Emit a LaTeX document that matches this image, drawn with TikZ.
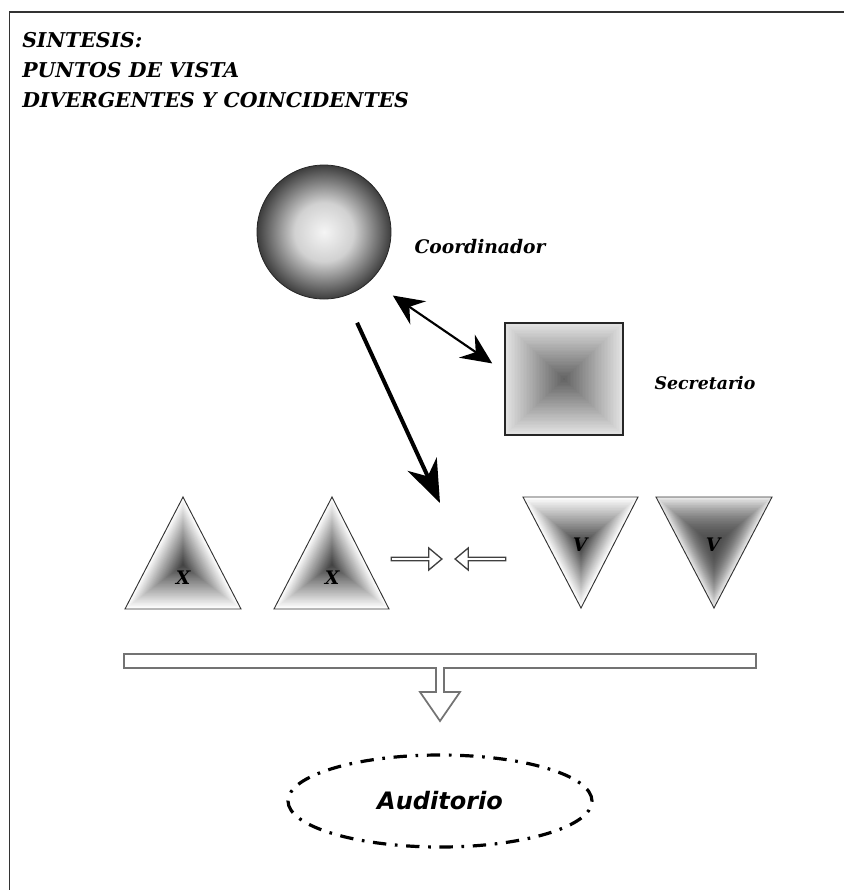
\documentclass[tikz,border=0pt]{standalone}
\usepackage{fontspec}
\setmainfont{DejaVu Serif}
\setsansfont{DejaVu Sans}
\usepackage{tikz}
\usetikzlibrary{arrows.meta}
\usetikzlibrary{shapes.arrows}
\usetikzlibrary{shapes.geometric}

\pgfdeclareradialshading{ballshade}{\pgfpoint{0bp}{0bp}}{color(0bp)=(black!4); color(11bp)=(black!18); color(25bp)=(black!76); color(50bp)=(black!76)}

\tikzset{
  script/.style={font=\bfseries\itshape\fontsize{#1}{#1}\selectfont, inner sep=0pt},
  hollowarrow/.style={single arrow, draw=black!75, fill=white, line width=1pt,
    minimum height=38pt, minimum width=16.5pt, single arrow head extend=2.6pt,
    single arrow tip angle=80, inner sep=0pt},
  bigarrow/.style={line width=3pt, -{Stealth[length=32pt, width=24pt, inset=10pt]}},
  dblarrow/.style={line width=1.6pt, {Stealth[length=23pt, width=21pt, inset=8pt]}-{Stealth[length=23pt, width=21pt, inset=8pt]}},
}

\begin{document}
\begin{tikzpicture}[x=0.75pt, y=-0.75pt]
    % Page area in pixel units (844 x 890)
    \useasboundingbox (0,0) rectangle (844,890);
    \draw[line width=1.1pt, black!80] (9.5,890) -- (9.5,12) -- (844,12);

    % Title
    \node[script=15.3, anchor=north west, align=left, font=\bfseries\itshape\fontsize{15.3}{22.5}\selectfont] (title) at (22,32)
        {SINTESIS:\\PUNTOS DE VISTA\\DIVERGENTES Y COINCIDENTES};

    % Coordinador: shaded ball
    \node[circle, minimum size=100.5pt, draw=black!85, line width=0.6pt, shade, shading=ballshade] (coord) at (324,232) {};
    \node[script=14] (coordlbl) at (480,247) {Coordinador};

    % Secretario: square with pyramid shading
    \foreach \i in {0,...,40} {
        \pgfmathsetmacro\s{1-\i/40}
        \pgfmathsetmacro\c{11+51*\i/40}
        \fill[black!\c] ({564-59*\s},{379-56*\s}) rectangle ({564+59*\s},{379+56*\s});
    }
    \node[draw=black!85, line width=1pt, minimum width=88.5pt, minimum height=84pt] (secr) at (564,379) {};
    \node[script=13] (secrlbl) at (705,383) {Secretario};

    % Arrows from the coordinator
    \draw[dblarrow, shorten <=20pt, shorten >=11pt] (coord.-46) -- (secr.173);
    \coordinate (focus) at (440,503);
    \draw[bigarrow, shorten <=22pt] (coord.-72) -- (focus);

    % Triangles pointing up (X)
    \foreach \ax/\bl/\br in {183/125/241, 332/274/389} {
        \foreach \i in {0,...,30} {
            \pgfmathsetmacro\s{1-\i/30}
            \pgfmathsetmacro\c{76*\i/30}
            \fill[black!\c] ({\ax+(\ax-\ax)*\s},{565+(497-565)*\s}) -- ({\ax+(\bl-\ax)*\s},{565+(609-565)*\s})
                -- ({\ax+(\br-\ax)*\s},{565+(609-565)*\s}) -- cycle;
        }
        \draw[black!80, line width=0.7pt] (\ax,497) -- (\bl,609) -- (\br,609) -- cycle;
    }
    \node[script=14] (x1) at (183,578) {X};
    \node[script=14] (x2) at (332,578) {X};

    % Triangles pointing down (V)
    \foreach \i in {0,...,30} {
        \pgfmathsetmacro\s{1-\i/30}
        \pgfmathsetmacro\c{78*\i/30}
        \fill[black!\c] ({581+(523-581)*\s},{545+(497-545)*\s}) -- ({581+(638-581)*\s},{545+(497-545)*\s})
            -- (581,{545+(608-545)*\s}) -- cycle;
    }
    \foreach \i in {0,...,30} {
        \pgfmathsetmacro\s{1-\i/30}
        \pgfmathsetmacro\c{70-62*\s*\s}
        \fill[black!\c] ({714+(656-714)*\s},{545+(497-545)*\s}) -- ({714+(772-714)*\s},{545+(497-545)*\s})
            -- (714,{545+(608-545)*\s}) -- cycle;
    }
    \draw[black!80, line width=0.7pt] (523,497) -- (638,497) -- (581,608) -- cycle;
    \draw[black!80, line width=0.7pt] (656,497) -- (772,497) -- (714,608) -- cycle;
    \node[script=14] (v1) at (580,545) {V};
    \node[script=14] (v2) at (713,545) {V};

    % Hollow arrows meeting in the middle
    \node[hollowarrow] (ra) at (415.5,559) {};
    \node[hollowarrow, shape border rotate=180] (la) at (481.5,559) {};

    % Bar collecting everything into one arrow
    \draw[black!55, line width=1.3pt, fill=white] (124,654) -- (756,654) -- (756,668) -- (444,668) -- (444,692)
        -- (460,692) -- (440,721) -- (420,692) -- (436,692) -- (436,668) -- (124,668) -- cycle;

    % Auditorio
    \node[ellipse, draw, line width=2.4pt, minimum width=228pt, minimum height=69pt,
          dash pattern=on 10pt off 6.5pt on 2pt off 6.5pt,
          font=\sffamily\bfseries\itshape\fontsize{18}{18}\selectfont] (aud) at (440,801) {Auditorio};
\end{tikzpicture}
\end{document}
